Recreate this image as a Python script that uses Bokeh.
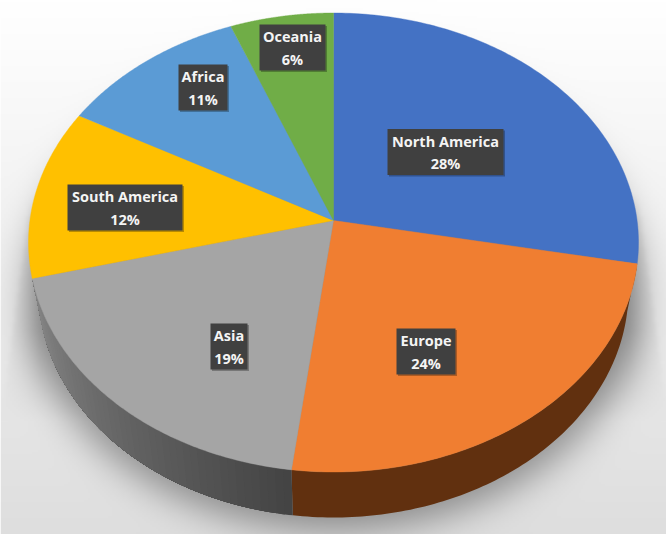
import numpy as np
from bokeh.plotting import figure
from bokeh.core.properties import value
from bokeh.embed import file_html
from bokeh.resources import INLINE

categories = ["North America", "Europe", "Asia", "South America", "Africa", "Oceania"]
shares = [28, 24, 19, 12, 11, 6]
top_colors = ["#4472C4", "#F07E31", "#A5A5A5", "#FFC000", "#5B9BD5", "#70AD47"]

# label box layout (pixel space of the page): centre x, centre y, width
label_cx = [445, 425.5, 228.5, 124.5, 202.5, 292]
label_cy = [151.5, 351, 346, 207, 87, 47]
label_w = [116, 59, 37, 115, 49, 66]
label_h = 46

W, H = 666, 534
p = figure(width=W, height=H, x_range=(0, W), y_range=(H, 0),
           toolbar_location=None, output_backend="svg", min_border=0,
           outline_line_color=None, background_fill_color="#ffffff")
p.axis.visible = False
p.grid.visible = False

# perspective disk -> page mapping
D = 0.096
def rim(turn, cx, cy, rx, ry):
    a = 2 * np.pi * np.asarray(turn, dtype=float)
    x, y = np.sin(a), np.cos(a)
    den = 1 + D * y
    return cx + rx * x * np.sqrt(1 - D * D) / den, cy - ry * (y + D) / den

TOP = (333.0, 242.0, 305.0, 229.5)
LOW = (333.0, 290.0, 295.0, 227.0)
apex = (TOP[0], TOP[1] - TOP[3] * D)

def blur(a, s):
    k = np.exp(-0.5 * (np.arange(-3 * s, 3 * s + 1) / s) ** 2)
    k /= k.sum()
    pad = 3 * s
    b = np.pad(a, pad, mode="edge")
    b = np.apply_along_axis(lambda v: np.convolve(v, k, mode="same"), 0, b)
    b = np.apply_along_axis(lambda v: np.convolve(v, k, mode="same"), 1, b)
    return b[pad:-pad, pad:-pad]

# backdrop: soft wash, cast shadow and the shadow's pale side wall
yy, xx = np.mgrid[0:H:2, 0:W:2].astype(float)
base = 255 - 33 * np.clip(yy / 534, 0, 1)
ell = (((xx - 333) / 307) ** 2 + ((yy - 290) / 239) ** 2) < 1
sh = blur(ell.astype(float), 9)
dx = np.abs(xx - 333)
half = 305 + (yy - 200) * 0.133
wall_mask = blur(((dx < half) & (yy > 190)).astype(float), 1)
u = np.clip((dx - 295) / (half - 295), 0, 1)
wall = wall_mask * (8 + 18 * (1 - u)) * np.clip((yy - 190) / 30, 0, 1) * np.clip((420 - yy) / 90, 0, 1)
g = np.clip(base - 85 * sh - wall, 0, 255).astype(np.uint8)
img = np.zeros(g.shape, dtype=np.uint32)
v = img.view(dtype=np.uint8).reshape(g.shape + (4,))
v[..., 0] = g; v[..., 1] = g; v[..., 2] = g; v[..., 3] = 255
p.image_rgba(image=[img], x=0, y=0, dw=W, dh=H)

cum = np.concatenate([[0], np.cumsum(shares)]) / np.sum(shares)

def wall_patch(a, b, col):
    t = np.linspace(a, b, 100)
    x1, y1 = rim(t, *TOP)
    x2, y2 = rim(t[::-1], *LOW)
    p.patch(np.r_[x1, x2], np.r_[y1, y2], fill_color=col, line_color=None)

# side wall: each strip runs to the slice's far end and is overpainted by the next
for i in range(len(shares)):
    a, b = cum[i], cum[i + 1]
    if categories[i] == "Europe":
        wall_patch(a, b, "#61300F")
    elif categories[i] == "Asia":
        n = 48
        e = np.linspace(a, b, n + 1)
        for k in range(n):
            f = k / (n - 1)
            g_ = int(round(0x44 + (0x86 - 0x44) * f))
            wall_patch(e[k], b, "#%02x%02x%02x" % (g_, g_, g_))

# top face
for i in range(len(shares)):
    t = np.linspace(cum[i], cum[i + 1], 120)
    x, y = rim(t, *TOP)
    p.patch(np.r_[apex[0], x], np.r_[apex[1], y], fill_color=top_colors[i],
            line_color=top_colors[i], line_width=0.4)

# data labels
for i, name in enumerate(categories):
    cx, cy, w = label_cx[i], label_cy[i], label_w[i]
    p.rect([cx + 1.5], [cy + 1.5], width=[w], height=[label_h], fill_color="#000000",
           fill_alpha=0.28, line_color=None)
    p.rect([cx], [cy], width=[w], height=[label_h], fill_color="#404040", line_color=None)
    p.text([cx], [cy - 11], text=[name], text_font=value("Open Sans"), text_font_style="bold",
           text_font_size="14.5px", text_color="#F4F4F4", text_align="center", text_baseline="middle")
    p.text([cx], [cy + 11.5], text=["%d%%" % shares[i]], text_font=value("Open Sans"),
           text_font_style="bold", text_font_size="14.5px", text_color="#F4F4F4",
           text_align="center", text_baseline="middle")

open("out.html", "w").write(file_html(p, INLINE))
